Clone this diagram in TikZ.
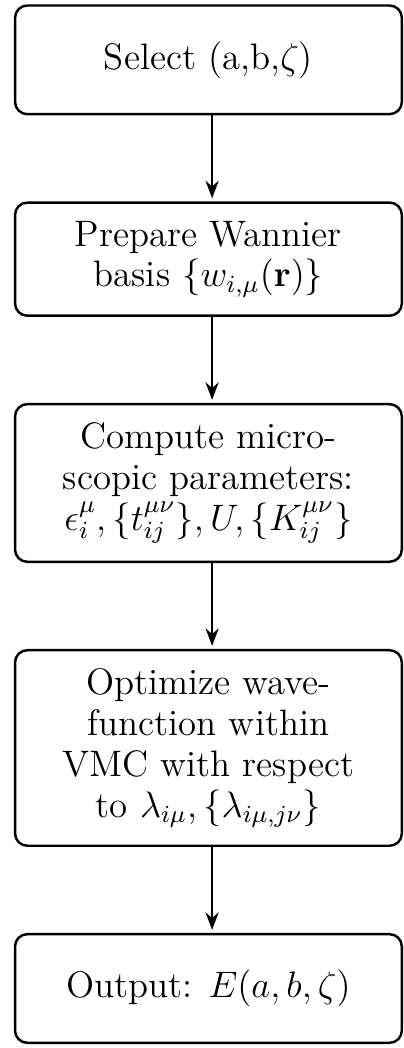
\documentclass[tikz,border=0pt]{standalone}
\usetikzlibrary{positioning,arrows.meta}
\tikzset{
  stepbox/.style={draw, thick, rounded corners=4pt, minimum width=126pt, minimum height=35.4pt,
    inner sep=6pt, align=center, font={\fontsize{12}{13.3}\selectfont}},
  flow/.style={-{Stealth}, line width=0.6pt, shorten >=1pt}
}
\begin{document}
\begin{tikzpicture}[node distance=28pt]
  \useasboundingbox (0,0) rectangle (131.6pt,-341.4pt);
  % one box per stage, top to bottom
  \node[stepbox] (sel) at (67.9pt,-19.5pt) {Select (a,b,$\zeta$)};
  \node[stepbox, below=of sel] (wan) {Prepare Wannier\\ basis $\{w_{i,\mu}(\mathbf{r})\}$};
  \node[stepbox, below=of wan] (par) {Compute micro-\\ scopic parameters:\\ $\epsilon_i^\mu,\{t_{ij}^{\mu\nu}\},U,\{K_{ij}^{\mu\nu}\}$};
  \node[stepbox, below=of par] (vmc) {Optimize wave-\\ function within\\ VMC with respect\\ to $\lambda_{i\mu},\{\lambda_{i\mu,j\nu}\}$};
  \node[stepbox, below=of vmc] (out) {Output: $E(a,b,\zeta)$};
  \foreach \u/\v in {sel/wan,wan/par,par/vmc,vmc/out}
    \draw[flow] ([xshift=1.2pt]\u.south) -- ([xshift=1.2pt]\v.north);
\end{tikzpicture}
\end{document}
